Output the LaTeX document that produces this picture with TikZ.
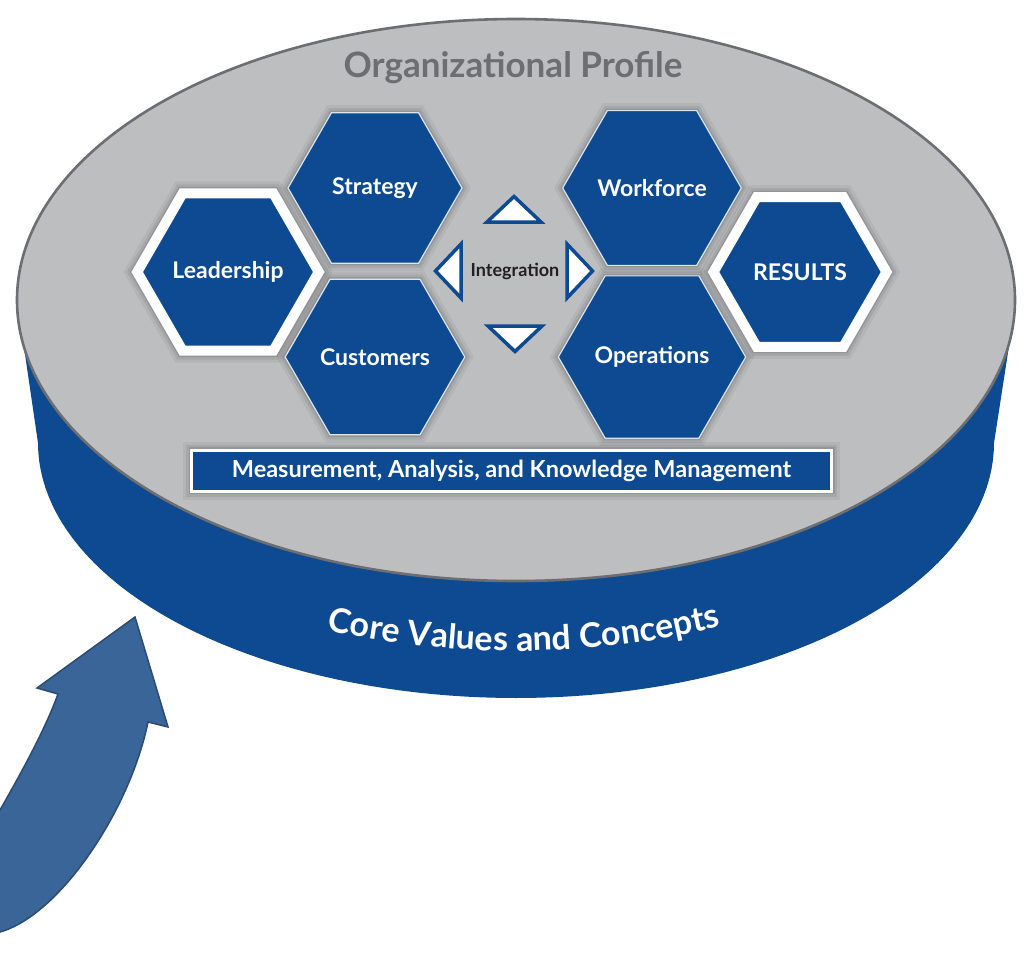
\documentclass[tikz,border=0pt]{standalone}
\usepackage{fontspec}
\setmainfont{Lato}
\usetikzlibrary{positioning,calc,shapes.geometric,decorations.text}

\definecolor{mbblue}{HTML}{0D4A91}
\definecolor{topgray}{HTML}{BDBEC0}
\definecolor{rimgray}{HTML}{6D6E71}
\definecolor{arrowblue}{HTML}{3A6598}
\definecolor{arrowedge}{HTML}{2B4B73}
\definecolor{inkdark}{HTML}{231F20}

\tikzset{
  halo/.style={preaction={draw=black, opacity=.05, line width=#1+14pt},
               preaction={draw=black, opacity=.07, line width=#1+8pt},
               preaction={draw=black, opacity=.10, line width=#1+3pt}},
  hexbase/.style={regular polygon, regular polygon sides=6, inner sep=0pt,
                  fill=mbblue, text=white, font=\fontsize{23}{23}\selectfont\bfseries},
  hexa/.style={hexbase, minimum size=174pt, draw=white!85!mbblue, line width=1.2pt, halo=1.2pt},
  hexframed/.style={hexbase, minimum size=173pt, draw=white, line width=10pt, halo=10pt},
  tri/.style={draw=mbblue, fill=white, line width=3.5pt, line join=miter},
  bar/.style={draw=white, line width=3pt, fill=mbblue, inner sep=0pt,
              text=white, font=\fontsize{23.5}{23.5}\selectfont\bfseries, halo=3pt}
}

\begin{document}
\begin{tikzpicture}[x=1pt, y=-1pt]
  \useasboundingbox (0,0) rectangle (1027,953);

  % blue rim of the disc
  \fill[mbblue] (20,320) -- (38,443)
    -- plot[domain=180:0, samples=91] ({516+478*cos(\x)}, {443+255*sin(\x)})
    -- (1013,320) -- cycle;

  % grey top face
  \draw[fill=topgray, draw=rimgray, line width=2.6pt]
    (516,300) ellipse [x radius=499, y radius=281];

  \node[text=rimgray, font=\fontsize{35}{35}\selectfont\bfseries] (profile) at (513,68) {Organizational Profile};

  % categories
  \node[hexframed] (lead) at (228,272) {Leadership};
  \node[hexa] (strat) at (375,188) {Strategy};
  \node[hexa] (cust) at (375,357) {Customers};
  \node[hexa] (work) at (652,188) {Workforce};
  \node[hexa] (oper) at (652,357) {Operations};
  \node[hexframed] (res) at (800,272) {RESULTS};

  % integration arrows
  \node[text=inkdark, font=\fontsize{18}{18}\selectfont\bfseries] (integ) at (515,271) {Integration};
  \draw[tri] ($(integ)+(-1,-74.5)$) -- ++(27,25.5) -- ++(-54,0) -- cycle;
  \draw[tri] ($(integ)+(0,80.5)$) -- ++(27,-25.5) -- ++(-54,0) -- cycle;
  \draw[tri] ($(integ)+(-79.5,0)$) -- ++(25.5,-27) -- ++(0,54) -- cycle;
  \draw[tri] ($(integ)+(77.5,0)$) -- ++(-25.5,-27) -- ++(0,54) -- cycle;

  \node[bar, minimum width=640pt, minimum height=41pt] (mak) at (511.5,470.5)
    {Measurement, Analysis, and Knowledge Management};

  % label on the rim
  \path[decorate, decoration={text along path, text align=center,
      text={|\fontsize{34}{34}\selectfont\bfseries\color{white}|Core Values and Concepts}}]
    plot[domain=160:17, samples=60] ({516+499*cos(\x)}, {370+281*sin(\x)});

  % big curved arrow
  \begin{scope}
    \clip (0,0) rectangle (1027,953);
    \draw[fill=arrowblue, draw=arrowedge, line width=1.5pt, line join=miter]
      (135,617) -- (168,727) -- (148,722)
      .. controls (130,810) and (60,915) .. (0,932) -- (-20,944) -- (-20,838)
      -- (0,810) .. controls (20,775) and (45,730) .. (58,694) -- (37,688) -- cycle;
  \end{scope}
\end{tikzpicture}
\end{document}
